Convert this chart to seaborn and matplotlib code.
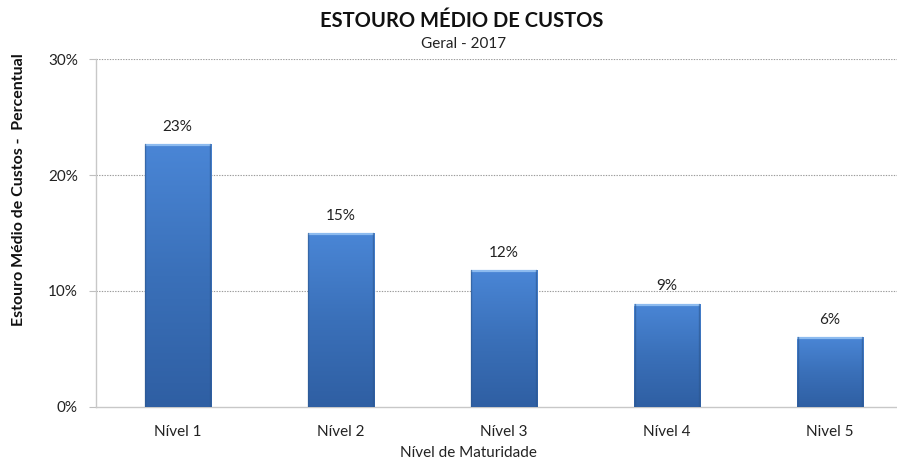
import numpy as np
import pandas as pd
import seaborn as sns
import matplotlib
matplotlib.use("Agg")
import matplotlib.pyplot as plt
from matplotlib.colors import LinearSegmentedColormap
from matplotlib.ticker import PercentFormatter

# Data
niveis = ["Nível 1", "Nível 2", "Nível 3", "Nível 4", "Nivel 5"]
estouro = [22.7, 15.0, 11.8, 8.9, 6.0]
y_ticks = [0, 10, 20, 30]

sns.set_theme(style="white")
plt.rcParams["font.family"] = ["Lato", "DejaVu Sans"]

df = pd.DataFrame({"nivel": niveis, "estouro": estouro})

fig = plt.figure(figsize=(8.97, 4.63), dpi=100)
ax = fig.add_axes([0.107, 0.1216, 0.893, 0.750])

sns.barplot(data=df, x="nivel", y="estouro", ax=ax, color="#3d74c0",
            width=0.405, saturation=1, edgecolor="none", zorder=3)

# vertical gradient on each bar
grad = LinearSegmentedColormap.from_list("bar", ["#2f5fa3", "#3a70b9", "#4a86d6"])
gimg = np.linspace(0, 1, 256).reshape(-1, 1)
for p in ax.patches:
    x0, w, h = p.get_x(), p.get_width(), p.get_height()
    im = ax.imshow(gimg, cmap=grad, origin="lower", aspect="auto",
                   extent=[x0, x0 + w, 0, h], zorder=4)
    im.set_clip_path(p)
    # thin light top edge and darker sides
    ax.plot([x0, x0 + w], [h - 0.08, h - 0.08], color="#8dbbef", lw=1.6, zorder=5,
            solid_capstyle="butt")
    ax.plot([x0 + 0.004, x0 + 0.004], [0, h], color="#2c578f", lw=1.0, zorder=5, alpha=0.6)
    ax.plot([x0 + w - 0.004, x0 + w - 0.004], [0, h], color="#2c578f", lw=1.0, zorder=5, alpha=0.6)
    ax.text(x0 + w / 2, h + 0.9, f"{h:.0f}%", ha="center", va="bottom",
            fontsize=11, color="#222222", zorder=6)

ax.set_xlim(-0.5, 4.41)
ax.set_ylim(0, 30)
ax.set_yticks(y_ticks)
ax.yaxis.set_major_formatter(PercentFormatter(decimals=0))
ax.tick_params(axis="y", length=5, width=0.8, color="#bfbfbf", labelsize=11,
               labelcolor="#222222", pad=8, left=True)
ax.tick_params(axis="x", length=0, labelsize=11, labelcolor="#222222", pad=13)
ax.set_xlabel("")
ax.set_ylabel("")

for y in y_ticks[1:]:
    ax.axhline(y, color="#9a9a9a", lw=0.8, ls=(0, (1.2, 1.2)), zorder=1)

for s in ["top", "right"]:
    ax.spines[s].set_visible(False)
for s in ["left", "bottom"]:
    ax.spines[s].set_color("#c8c8c8")
    ax.spines[s].set_linewidth(1.0)

fig.text(0.515, 0.955, "ESTOURO MÉDIO DE CUSTOS", ha="center", va="center",
         fontsize=14.5, fontweight="bold", color="#111111")
fig.text(0.517, 0.906, "Geral - 2017", ha="center", va="center",
         fontsize=11, color="#222222")
fig.text(0.522, 0.022, "Nível de Maturidade", ha="center", va="center",
         fontsize=11, color="#222222")
fig.text(0.021, 0.59, "Estouro Médio de Custos -  Percentual", ha="center", va="center",
         rotation=90, fontsize=11.5, fontweight="bold", color="#111111")

fig.savefig("out.png", dpi=100, facecolor="white")
